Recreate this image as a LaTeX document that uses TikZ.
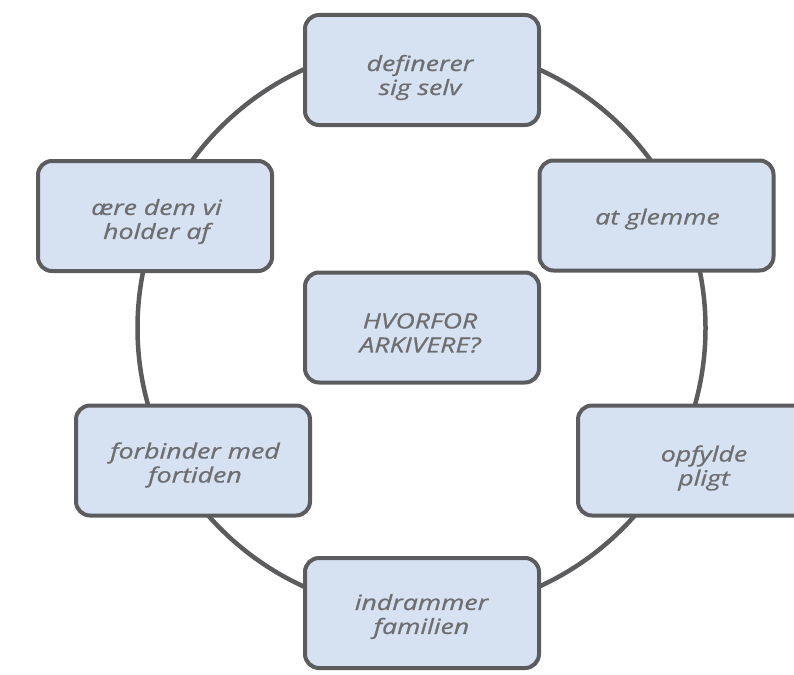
\documentclass[tikz,border=0pt]{standalone}
\usepackage{fontspec}
\setmainfont{Open Sans}
\newfontfamily\lblfont[FakeStretch=1.27,FakeBold=0.8]{Open Sans}
\definecolor{boxfill}{HTML}{D6E1F2}
\definecolor{boxline}{HTML}{5C5C5E}
\definecolor{txt}{HTML}{6E6E70}
\begin{document}
\begin{tikzpicture}[x=1pt,y=-1pt,
  box/.style={draw=boxline, fill=boxfill, line width=4pt, rounded corners=14pt,
    minimum width=234pt, minimum height=110pt, inner sep=0pt},
  lbl/.style={text=txt, font=\lblfont\fontsize{21}{24}\selectfont\itshape, align=center, inner sep=0pt}]
\useasboundingbox (0,0) rectangle (794,674);
\draw[boxline, line width=4.5pt] (421.5,328) circle[radius=284];
\node[box] (top) at (422,70) {};
\node[box] (tr) at (656.5,215.5) {};
\node[box] (rt) at (695,460.5) {};
\node[box] (ctr) at (422,327.5) {};
\node[box] (tl) at (155,216) {};
\node[box] (lb) at (193,460.5) {};
\node[box] (bot) at (422,613) {};
\node[lbl] (ttop) at (420,77.5) {definerer\\sig selv};
\node[lbl] (ttr) at (657.5,219) {at glemme};
\node[lbl] (trt) at (704,468) {opfylde\\pligt};
\node[lbl] (tctr) at (420,333) {HVORFOR\\ARKIVERE?};
\node[lbl] (ttl) at (156.5,221.5) {ære dem vi\\holder af};
\node[lbl] (tlb) at (195,465) {forbinder med\\fortiden};
\node[lbl] (tbot) at (421.5,616.5) {indrammer\\familien};
\end{tikzpicture}
\end{document}
